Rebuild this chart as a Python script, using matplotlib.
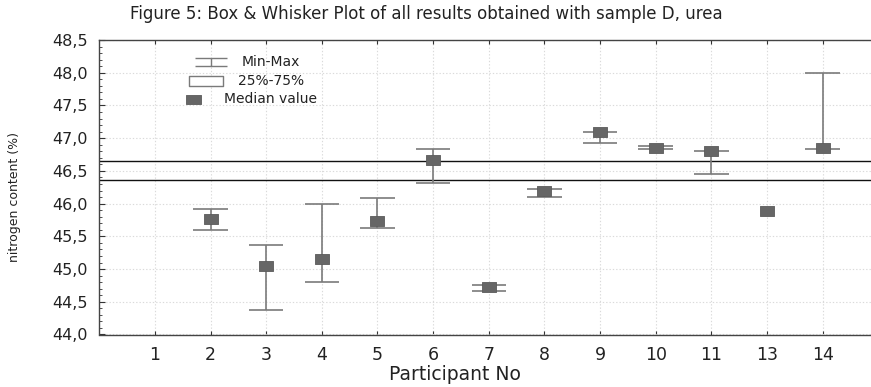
import matplotlib
matplotlib.use("Agg")
import matplotlib.pyplot as plt
import numpy as np
from matplotlib.path import Path
from matplotlib.ticker import MultipleLocator, FuncFormatter, FixedLocator

# ---- data ----
participants = ["1", "2", "3", "4", "5", "6", "7", "8", "9", "10", "11", "13", "14"]
medians = [np.nan, 45.76, 45.05, 45.15, 45.73, 46.66, 44.73, 46.20, 47.09, 46.85, 46.80, 45.89, 46.85]
mins    = [np.nan, 45.59, 44.37, 44.80, 45.63, 46.32, 44.66, 46.10, 46.93, 46.83, 46.45, np.nan, 46.83]
maxs    = [np.nan, 45.92, 45.37, 46.00, 46.08, 46.83, 44.75, 46.22, 47.10, 46.88, 46.81, np.nan, 48.00]
ref_lines = [46.655, 46.366]
title = "Figure 5: Box & Whisker Plot of all results obtained with sample D, urea"
xlabel = "Participant No"
ylabel = "nitrogen content (%)"
legend_labels = ["Min-Max", "25%-75%", "Median value"]

plt.rcParams['font.family'] = ['DejaVu Sans']

W, H = 871, 387
fig = plt.figure(figsize=(W / 100, H / 100), dpi=100)
left_px, right_px, top_px, bot_px = 99.3, 871, 40, 334.5
ax = fig.add_axes([left_px / W, 1 - bot_px / H, (right_px - left_px) / W, (bot_px - top_px) / H])

x = np.arange(1, len(participants) + 1)
whisk_col = "#7a7a7a"
cap_half = 0.31

# grid
ax.grid(True, which="major", color="#dadada", linestyle=(0, (1.2, 1.8)), linewidth=0.8)
ax.set_axisbelow(True)

# reference lines
for r in ref_lines:
    ax.axhline(r, color="#111111", linewidth=1.0, zorder=2)

# whiskers
ax.vlines(x, mins, maxs, color=whisk_col, linewidth=1.2, zorder=3)
ax.hlines(mins, x - cap_half, x + cap_half, color=whisk_col, linewidth=1.2, zorder=3)
ax.hlines(maxs, x - cap_half, x + cap_half, color=whisk_col, linewidth=1.2, zorder=3)

# median markers
rect = Path([(-1, -0.63), (1, -0.63), (1, 0.63), (-1, 0.63), (-1, -0.63)],
            [Path.MOVETO, Path.LINETO, Path.LINETO, Path.LINETO, Path.CLOSEPOLY])
ax.plot(x, medians, linestyle="none", marker=rect, markersize=10.6,
        markerfacecolor="#666666", markeredgecolor="#5a5a5a", markeredgewidth=0.6, zorder=4)

# axes limits & ticks
ax.set_xlim(0, 13.87)
ax.set_ylim(44.0, 48.5)
ax.xaxis.set_major_locator(FixedLocator(x))
ax.set_xticklabels(participants)
ax.yaxis.set_major_locator(MultipleLocator(0.5))
ax.yaxis.set_minor_locator(MultipleLocator(0.1))
ax.yaxis.set_major_formatter(FuncFormatter(lambda v, p: f"{v:.1f}".replace(".", ",")))
ax.tick_params(axis="x", which="both", direction="in", top=True, bottom=True, length=3,
               width=0.8, color="#333333", labelsize=12.5, labelcolor="#222222", pad=8)
ax.tick_params(axis="y", which="major", direction="in", left=True, right=False, length=4,
               width=0.8, color="#333333", labelsize=11.5, labelcolor="#222222", pad=8)
ax.tick_params(axis="y", which="minor", direction="in", left=True, right=False, length=2,
               width=0.6, color="#333333")
for s in ["top", "bottom", "left"]:
    ax.spines[s].set_color("#444444")
    ax.spines[s].set_linewidth(1.0)
ax.spines["right"].set_visible(False)

# titles/labels
fig.text(426 / W, 1 - 14 / H, title, ha="center", va="center", fontsize=12, color="#222222")
fig.text(455 / W, 1 - 375 / H, xlabel, ha="center", va="center", fontsize=13.5, color="#222222")
fig.text(15 / W, 1 - 197 / H, ylabel, ha="center", va="center", rotation=90, fontsize=9, color="#222222")

# legend (manual)
def axc(px, py):
    return (px - left_px) / (right_px - left_px), (bot_px - py) / (bot_px - top_px)

minmax = Path([(-1, 0.28), (1, 0.28), (0, 0.28), (0, -0.28), (-1, -0.28), (1, -0.28)],
              [Path.MOVETO, Path.LINETO, Path.MOVETO, Path.LINETO, Path.MOVETO, Path.LINETO])
boxp = Path([(-1, -0.32), (1, -0.32), (1, 0.32), (-1, 0.32), (-1, -0.32)],
            [Path.MOVETO, Path.LINETO, Path.LINETO, Path.LINETO, Path.CLOSEPOLY])
medp = Path([(-1, -0.6), (1, -0.6), (1, 0.6), (-1, 0.6), (-1, -0.6)],
            [Path.MOVETO, Path.LINETO, Path.LINETO, Path.LINETO, Path.CLOSEPOLY])
leg_items = [
    (minmax, 211, 62, 23, dict(markerfacecolor="none", markeredgecolor=whisk_col, markeredgewidth=1.0)),
    (boxp, 206, 81, 24.5, dict(markerfacecolor="white", markeredgecolor=whisk_col, markeredgewidth=1.0)),
    (medp, 192.5, 99, 10.8, dict(markerfacecolor="#666666", markeredgecolor="#5a5a5a", markeredgewidth=0.6)),
]
for (mk, px, py, ms, kw), lab in zip(leg_items, legend_labels):
    ax_x, ax_y = axc(px, py)
    ax.plot([ax_x], [ax_y], transform=ax.transAxes, linestyle="none", marker=mk,
            markersize=ms, zorder=5, clip_on=False, **kw)
    tx, ty = axc(271, py)
    ax.text(tx, ty, lab, transform=ax.transAxes, ha="center", va="center", fontsize=10, color="#222222")

fig.savefig("out.png", dpi=100)
